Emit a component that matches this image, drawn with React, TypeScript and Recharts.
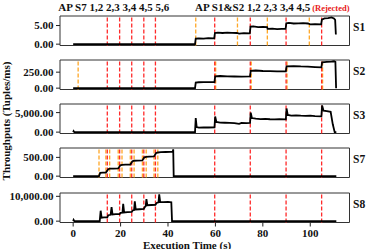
import { LineChart, Line, XAxis, YAxis, ReferenceLine, ReferenceArea } from 'recharts';

const FONT = "'Liberation Serif', 'Times New Roman', serif";
const RED = '#ff2a2a';
const ORANGE = '#ffa726';

const X_DOMAIN: [number, number] = [-5.55, 116.55];
const X_TICKS = [0, 20, 40, 60, 80, 100];

// vertical markers (seconds)
const RED_MARKS = [14.4, 19.6, 24.7, 29.8, 34.7, 59.7, 74.7, 89.8, 104.8];
const S1_ORANGE = [51.7, 69.3, 81.9, 99.6];
const S2_ORANGE = [2.1, 60.1, 75.1, 90.2, 105.2];
const S7_ORANGE = [10.9, 13.8, 15.4, 19.0, 20.6, 24.1, 25.7, 29.2, 30.8, 34.1, 35.7];

// throughput samples [time (s), tuples/ms]
const S1_POINTS: [number, number][] = [
  [0, 0], [51.4, 0], [51.7, 1.5], [53, 1.55], [55, 1.5], [57, 1.6], [59.5, 1.55],
  [59.8, 3.0], [61, 3.1], [63, 3.0], [65, 3.1], [67, 3.05], [69, 3.0], [70, 2.85], [72, 2.95], [74.5, 2.9],
  [74.8, 4.7], [76, 4.75], [78, 4.6], [80, 4.65], [81.8, 4.6],
  [82, 4.1], [84, 4.15], [86, 4.05], [88, 4.1], [89.6, 4.1],
  [89.9, 5.6], [91, 5.7], [93, 5.55], [95, 5.6], [97, 5.65], [99, 5.55], [100, 5.3], [102, 5.35], [104.6, 5.3],
  [104.9, 6.6], [106, 6.9], [107.5, 7.0], [109, 7.2], [110, 6.9], [110.5, 6.5], [110.8, 2.6],
];

const S2_POINTS: [number, number][] = [
  [0, 0], [51.4, 0], [51.7, 88], [53, 92], [55, 95], [57, 93], [59.6, 95],
  [59.9, 185], [62, 190], [65, 185], [68, 182], [71, 180], [74.6, 183],
  [74.9, 272], [77, 276], [80, 268], [83, 265], [86, 262], [89.7, 262],
  [90, 340], [93, 345], [96, 340], [99, 338], [102, 330], [104.7, 325],
  [105, 405], [107, 410], [109, 415], [110, 420], [110.6, 412], [110.9, 0],
];

const S3_POINTS: [number, number][] = [
  [0, 0], [0.2, 280], [0.5, 0], [51.4, 0],
  [51.7, 3600], [52.1, 1300], [53, 1150], [55, 1200], [57, 1180], [59.6, 1200],
  [59.9, 4000], [60.4, 2600], [62, 2450], [64, 2400], [66, 2350], [68, 2300], [70, 2100], [71, 2350], [73, 2300], [74.6, 2350],
  [74.9, 5000], [75.4, 3600], [77, 3450], [79, 3350], [81, 3400], [83, 3300], [85, 3250], [87, 3300], [89.7, 3250],
  [90, 6050], [90.5, 4400], [92, 4250], [94, 4300], [96, 4200], [98, 4150], [100, 4200], [102, 4100], [104.7, 4050],
  [105, 6850], [105.6, 5500], [107, 5400], [108.6, 5200], [109.5, 2000], [110.3, 0], [111, 0],
];

const S7_POINTS: [number, number][] = [
  [0, 0], [10.9, 0], [11.4, 88], [12.5, 92], [13.8, 95],
  [14.8, 185], [15.4, 198], [17, 202], [19.0, 205],
  [19.9, 290], [20.6, 300], [22, 305], [24.1, 310],
  [25.0, 395], [25.7, 410], [27, 412], [29.2, 418],
  [30.0, 500], [30.8, 515], [32, 520], [34.1, 525],
  [35.0, 615], [35.7, 630], [37, 640], [39, 644], [41, 645], [42.0, 650], [42.2, 715], [42.4, 0], [111, 0],
];

const S8_POINTS: [number, number][] = [
  [0, 0], [0.2, 500], [0.5, 0], [11.2, 0],
  [11.6, 4200], [12.0, 1400], [13, 1500], [14.4, 1550], [14.8, 2400], [15.8, 2550],
  [16.2, 5700], [16.6, 2700], [18, 2800], [19.6, 2850], [20, 3300], [20.8, 3400],
  [21.1, 7000], [21.5, 3500], [23, 3600], [24.7, 3700], [25.1, 4300], [25.7, 4500],
  [26.0, 8000], [26.4, 4700], [28, 4800], [29.8, 4950], [30.2, 5700], [30.6, 6100],
  [30.9, 8900], [31.3, 6400], [33, 6500], [34.7, 6600], [35.2, 7300], [36.0, 7600],
  [36.3, 10800], [36.7, 7800], [38, 7700], [40, 7800], [41.4, 7600], [41.7, 0], [111, 0],
];

const TITLE_LEFT = 'AP S7 1,2 2,3 3,4 4,5 5,6';
const TITLE_RIGHT = 'AP S1&S2 1,2 2,3 3,4 4,5';
const TITLE_REJECTED = '(Rejected)';

const PANEL_H = 29.5;

interface PanelProps {
  name: string;
  top: number;
  points: [number, number][];
  yDomain: [number, number];
  yTicks: number[];
  oranges: number[];
  showX?: boolean;
}

const tickStyle = { fontSize: 11, fontFamily: FONT, fontWeight: 700, fill: '#111' };

const fmt = (v: number) =>
  v.toLocaleString('en-US', { minimumFractionDigits: 2, maximumFractionDigits: 2 });

function Panel({ name, top, points, yDomain, yTicks, oranges, showX = false }: PanelProps) {
  const mt = 4;
  const xh = showX ? 18 : 6;
  const data = points.map(([t, v]) => ({ t, v }));
  return (
    <div style={{ position: 'absolute', left: 0, top: top - mt }}>
      <LineChart width={374} height={mt + PANEL_H + xh} data={data} margin={{ top: mt, right: 24.5, bottom: 0, left: 5 }}>
        <XAxis
          type="number"
          dataKey="t"
          domain={X_DOMAIN}
          ticks={X_TICKS}
          allowDataOverflow
          axisLine={false}
          tickLine={{ stroke: '#222' }}
          tickSize={4}
          tickMargin={3}
          height={xh}
          tick={showX ? tickStyle : false}
          interval={0}
        />
        <YAxis
          type="number"
          domain={yDomain}
          ticks={yTicks}
          allowDataOverflow
          axisLine={false}
          tickLine={{ stroke: '#222' }}
          tickSize={4}
          tickMargin={2.5}
          width={55}
          tick={tickStyle}
          tickFormatter={fmt}
          interval={0}
        />
        <ReferenceArea
          x1={X_DOMAIN[0]}
          x2={X_DOMAIN[1]}
          y1={yDomain[0]}
          y2={yDomain[1]}
          fill="none"
          stroke="#333"
          strokeWidth={1}
        />
        {oranges.map((t) => (
          <ReferenceLine key={`o-${name}-${t}`} x={t} stroke={ORANGE} strokeDasharray="4 2" strokeWidth={1.3} />
        ))}
        {RED_MARKS.map((t) => (
          <ReferenceLine key={`r-${name}-${t}`} x={t} stroke={RED} strokeDasharray="4 2" strokeWidth={1.3} />
        ))}
        <Line type="linear" dataKey="v" stroke="#000" strokeWidth={1.8} dot={false} isAnimationActive={false} />
      </LineChart>
    </div>
  );
}

const PANELS: PanelProps[] = [
  { name: 'S1', top: 15.7, points: S1_POINTS, yDomain: [-0.36, 7.56], yTicks: [0, 5], oranges: S1_ORANGE },
  { name: 'S2', top: 60, points: S2_POINTS, yDomain: [-21, 440], yTicks: [0, 250], oranges: S2_ORANGE },
  { name: 'S3', top: 104, points: S3_POINTS, yDomain: [-350, 7200], yTicks: [0, 5000], oranges: [] },
  { name: 'S7', top: 148, points: S7_POINTS, yDomain: [-36, 750], yTicks: [0, 500], oranges: S7_ORANGE },
  { name: 'S8', top: 193, points: S8_POINTS, yDomain: [-540, 11340], yTicks: [0, 10000], oranges: [], showX: true },
];

export default function App() {
  return (
    <div style={{ position: 'absolute', left: 0, top: 0, width: 374, height: 249, background: '#fff', overflow: 'hidden' }}>
      {PANELS.map((p) => (
        <Panel key={p.name} {...p} />
      ))}
      <svg width={374} height={249} style={{ position: 'absolute', left: 0, top: 0, pointerEvents: 'none' }}>
        <g fontFamily={FONT} fontWeight={700} fill="#111">
          <text x={58.3} y={10.8} fontSize={11}>{TITLE_LEFT}</text>
          <text x={195} y={10.8} fontSize={11}>
            {TITLE_RIGHT}
            <tspan fill="#e82020" fontSize={8.5} dx={2}>{TITLE_REJECTED}</tspan>
          </text>
          {PANELS.map((p) => (
            <text key={p.name} x={353} y={p.top + 15} fontSize={11.5}>{p.name}</text>
          ))}
          <text transform="translate(9.5,121) rotate(-90)" textAnchor="middle" fontSize={11}>
            Throughputs (Tuples/ms)
          </text>
          <text x={187} y={248.5} textAnchor="middle" fontSize={11}>Execution Time (s)</text>
        </g>
      </svg>
    </div>
  );
}
